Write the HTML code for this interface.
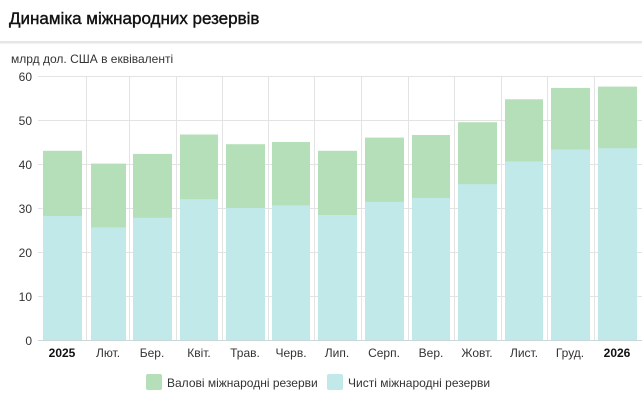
<!DOCTYPE html>
<html><head><meta charset="utf-8"><style>
body{margin:0;width:642px;height:406px;background:#fff;overflow:hidden;font-family:"Liberation Sans",sans-serif}
</style></head><body>
<svg width="642" height="406" xmlns="http://www.w3.org/2000/svg" font-family="Liberation Sans, sans-serif">
<text x="9" y="24" font-size="17" fill="#111" stroke="#111" stroke-width="0.4">Динаміка міжнародних резервів</text>
<rect x="0" y="41" width="642" height="2" fill="#e6e6e6"/>
<rect x="0" y="43" width="642" height="1" fill="#f2f2f2"/>
<text x="11" y="63" font-size="12" fill="#333">млрд дол. США в еквіваленті</text>
<g stroke="#e3e3e3" stroke-width="1">
<line x1="38" y1="76.5" x2="642" y2="76.5"/><line x1="38" y1="120.5" x2="642" y2="120.5"/>
<line x1="38" y1="164.5" x2="642" y2="164.5"/><line x1="38" y1="208.5" x2="642" y2="208.5"/>
<line x1="38" y1="252.5" x2="642" y2="252.5"/><line x1="38" y1="296.5" x2="642" y2="296.5"/>
<line x1="86.5" y1="76" x2="86.5" y2="340"/><line x1="129.5" y1="76" x2="129.5" y2="340"/>
<line x1="176.5" y1="76" x2="176.5" y2="340"/><line x1="222.5" y1="76" x2="222.5" y2="340"/>
<line x1="268.5" y1="76" x2="268.5" y2="340"/><line x1="314.5" y1="76" x2="314.5" y2="340"/>
<line x1="361.5" y1="76" x2="361.5" y2="340"/><line x1="408.5" y1="76" x2="408.5" y2="340"/>
<line x1="454.5" y1="76" x2="454.5" y2="340"/><line x1="501.5" y1="76" x2="501.5" y2="340"/>
<line x1="547.5" y1="76" x2="547.5" y2="340"/><line x1="594.5" y1="76" x2="594.5" y2="340"/>
</g>
<g font-size="12" fill="#333" text-anchor="end">
<text x="32" y="81">60</text><text x="32" y="125">50</text><text x="32" y="169">40</text>
<text x="32" y="213">30</text><text x="32" y="257">20</text><text x="32" y="301">10</text><text x="32" y="345">0</text>
</g>
<g fill="#b5dfb8">
<rect x="43" y="150.8" width="39" height="189.2"/>
<rect x="91" y="163.6" width="35" height="176.4"/>
<rect x="133" y="153.9" width="39" height="186.1"/>
<rect x="180" y="134.5" width="38" height="205.5"/>
<rect x="226" y="144.2" width="39" height="195.8"/>
<rect x="272" y="142" width="38" height="198"/>
<rect x="318" y="150.8" width="39" height="189.2"/>
<rect x="365" y="137.6" width="39" height="202.4"/>
<rect x="412" y="135" width="38" height="205"/>
<rect x="458" y="122.2" width="39" height="217.8"/>
<rect x="505" y="99.3" width="38" height="240.7"/>
<rect x="551" y="87.9" width="39" height="252.1"/>
<rect x="598" y="86.6" width="39" height="253.4"/>
</g>
<g fill="#c1e9e9">
<rect x="43" y="215.9" width="39" height="124.1"/>
<rect x="91" y="227.4" width="35" height="112.6"/>
<rect x="133" y="217.7" width="39" height="122.3"/>
<rect x="180" y="199.2" width="38" height="140.8"/>
<rect x="226" y="208" width="39" height="132"/>
<rect x="272" y="205.4" width="38" height="134.6"/>
<rect x="318" y="215" width="39" height="125"/>
<rect x="365" y="201.8" width="39" height="138.2"/>
<rect x="412" y="197.9" width="38" height="142.1"/>
<rect x="458" y="184.2" width="39" height="155.8"/>
<rect x="505" y="161.4" width="38" height="178.6"/>
<rect x="551" y="149.5" width="39" height="190.5"/>
<rect x="598" y="148.2" width="39" height="191.8"/>
</g>
<line x1="38" y1="340.5" x2="642" y2="340.5" stroke="#c9d9d9" stroke-width="1"/>
<g font-size="12" fill="#333" text-anchor="middle">
<text x="62" y="357" font-weight="bold" fill="#111">2025</text><text x="108" y="357">Лют.</text>
<text x="152" y="357">Бер.</text><text x="199" y="357">Квіт.</text><text x="245" y="357">Трав.</text>
<text x="291" y="357">Черв.</text><text x="337" y="357">Лип.</text><text x="384" y="357">Серп.</text>
<text x="431" y="357">Вер.</text><text x="477" y="357">Жовт.</text><text x="524" y="357">Лист.</text>
<text x="570" y="357">Груд.</text><text x="617" y="357" font-weight="bold" fill="#111">2026</text>
</g>
<rect x="146" y="374" width="16" height="16" rx="2" fill="#b5dfb8"/>
<text x="167" y="387" font-size="12" fill="#333">Валові міжнародні резерви</text>
<rect x="327" y="374" width="16" height="16" rx="2" fill="#c1e9e9"/>
<text x="348" y="387" font-size="12" fill="#333">Чисті міжнародні резерви</text>
</svg>
</body></html>
